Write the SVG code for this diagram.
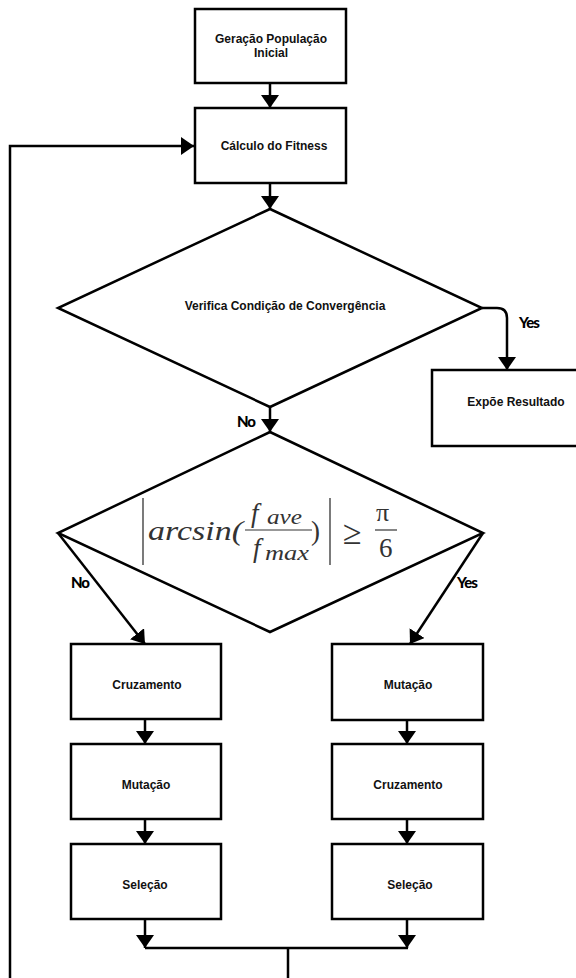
<svg xmlns="http://www.w3.org/2000/svg" width="576" height="978" viewBox="0 0 576 978">
<style>
.box{fill:#fff;stroke:#000;stroke-width:2.5}
.lbl{font-family:"Liberation Sans",Arial,sans-serif;font-weight:bold;font-size:12px;fill:#111;text-anchor:middle}
.edge{fill:none;stroke:#000;stroke-width:2.5}
.yn{font-family:Lato,"Liberation Sans",sans-serif;font-weight:900;font-size:15px;fill:#000;letter-spacing:-1px}
.math{font-family:"Liberation Serif","DejaVu Serif",serif;font-style:italic;fill:#333}
.mathr{font-family:"Liberation Serif","DejaVu Serif",serif;fill:#333}
</style>
<defs>
<marker id="ah" markerUnits="userSpaceOnUse" viewBox="0 0 13 18" markerWidth="13" markerHeight="18" refX="13" refY="9" orient="auto">
<path d="M0,0 L13,9 L0,18 Z" fill="#000"/>
</marker>
</defs>
<rect width="576" height="978" fill="#fff"/>

<g id="connectors">
<path class="edge" d="M270,83 V108" marker-end="url(#ah)"/>
<path class="edge" d="M10,978 V146 H194" marker-end="url(#ah)"/>
<path class="edge" d="M270,183 V209" marker-end="url(#ah)"/>
<path class="edge" d="M482,308 H497 Q507,308 507,318 V370" marker-end="url(#ah)"/>
<path class="edge" d="M270,407 V432" marker-end="url(#ah)"/>
<path class="edge" d="M58,533 L145,644" marker-end="url(#ah)"/>
<path class="edge" d="M483,533 L410,644" marker-end="url(#ah)"/>
<path class="edge" d="M145,719 V744" marker-end="url(#ah)"/>
<path class="edge" d="M407,720 V744" marker-end="url(#ah)"/>
<path class="edge" d="M145,819 V844" marker-end="url(#ah)"/>
<path class="edge" d="M407,819 V844" marker-end="url(#ah)"/>
<path class="edge" d="M145,919 V948" marker-end="url(#ah)"/>
<path class="edge" d="M407,919 V948" marker-end="url(#ah)"/>
<path class="edge" d="M145,948 H408 M288,948 V978"/>
<text class="yn" x="519" y="328">Yes</text>
<text class="yn" x="237" y="427">No</text>
<text class="yn" x="71" y="588">No</text>
<text class="yn" x="457" y="588">Yes</text>
</g>

<g id="n-geracao">
<rect class="box" x="195" y="9" width="151" height="74"/>
<text class="lbl" x="271" y="43">Geração População</text>
<text class="lbl" x="271" y="57">Inicial</text>
</g>

<g id="n-fitness">
<rect class="box" x="195" y="108" width="151" height="75"/>
<text class="lbl" x="274" y="150">Cálculo do Fitness</text>
</g>

<g id="n-convergencia">
<polygon class="box" points="270,209 482,308 270,407 58,308"/>
<text class="lbl" x="285" y="310">Verifica Condição de Convergência</text>
</g>

<g id="n-resultado">
<rect class="box" x="432" y="370" width="150" height="76"/>
<text class="lbl" x="516" y="406">Expõe Resultado</text>
</g>

<g id="n-arcsin">
<polygon class="box" points="270,432 483,533 270,632 58,533"/>
<line x1="143" y1="498" x2="143" y2="565" stroke="#333" stroke-width="1.3"/>
<text class="math" x="148" y="540" font-size="27" textLength="95" lengthAdjust="spacingAndGlyphs">arcsin(</text>
<text class="math" x="251" y="522" font-size="27">f</text>
<text class="math" x="267" y="524" font-size="20" textLength="35" lengthAdjust="spacingAndGlyphs">ave</text>
<line x1="245" y1="530" x2="312" y2="530" stroke="#333" stroke-width="1.2"/>
<text class="math" x="253" y="557" font-size="27">f</text>
<text class="math" x="265" y="560" font-size="20" textLength="44" lengthAdjust="spacingAndGlyphs">max</text>
<text class="mathr" x="311" y="540" font-size="27">)</text>
<line x1="330" y1="498" x2="330" y2="565" stroke="#333" stroke-width="1.3"/>
<text class="mathr" x="343" y="544" font-size="34">≥</text>
<text class="mathr" x="376" y="521" font-size="26">π</text>
<line x1="375" y1="530" x2="397" y2="530" stroke="#333" stroke-width="1.2"/>
<text class="mathr" x="379" y="557" font-size="27">6</text>
</g>

<g id="n-cruzamento1">
<rect class="box" x="71" y="644" width="150" height="75"/>
<text class="lbl" x="147" y="689">Cruzamento</text>
</g>
<g id="n-mutacao1">
<rect class="box" x="71" y="744" width="150" height="75"/>
<text class="lbl" x="146" y="789">Mutação</text>
</g>
<g id="n-selecao1">
<rect class="box" x="71" y="844" width="150" height="75"/>
<text class="lbl" x="145" y="889">Seleção</text>
</g>
<g id="n-mutacao2">
<rect class="box" x="332" y="644" width="151" height="76"/>
<text class="lbl" x="408" y="689">Mutação</text>
</g>
<g id="n-cruzamento2">
<rect class="box" x="332" y="744" width="151" height="75"/>
<text class="lbl" x="408" y="789">Cruzamento</text>
</g>
<g id="n-selecao2">
<rect class="box" x="332" y="844" width="151" height="75"/>
<text class="lbl" x="410" y="889">Seleção</text>
</g>
</svg>
